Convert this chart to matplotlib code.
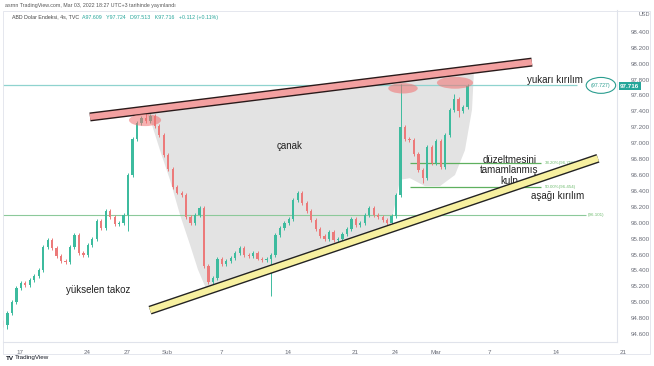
import numpy as np
import matplotlib.pyplot as plt
import matplotlib.transforms as mtransforms
from matplotlib.patches import Ellipse, Polygon

plt.rcParams['font.family'] = ['Liberation Sans', 'DejaVu Sans']

# DXY, 8h candles (x in trading days from 17 Jan)
start_day = -1.27
step = 1 / 3
first_open = 94.75
closes = [94.71, 94.86, 95.00, 95.18, 95.24, 95.22, 95.28, 95.33, 95.40, 95.70,
          95.78, 95.68, 95.58, 95.52, 95.50, 95.69, 95.85, 95.62, 95.60, 95.72,
          95.80, 96.02, 95.93, 96.15, 96.07, 95.98, 96.00, 96.10, 96.60, 97.05,
          97.25, 97.32, 97.28, 97.34, 97.22, 97.10, 96.85, 96.68, 96.45, 96.38,
          96.35, 96.07, 96.00, 96.10, 96.18, 95.45, 95.25, 95.30, 95.55, 95.48,
          95.52, 95.56, 95.62, 95.68, 95.60, 95.58, 95.62, 95.55, 95.53, 95.55,
          95.60, 95.85, 95.93, 96.00, 96.05, 96.28, 96.37, 96.25, 96.15, 96.03,
          95.92, 95.83, 95.80, 95.88, 95.78, 95.80, 95.86, 95.92, 96.05, 95.97,
          96.00, 96.10, 96.18, 96.10, 96.07, 96.03, 96.00, 96.08, 96.35, 97.20,
          97.05, 97.04, 96.87, 96.66, 96.56, 96.95, 96.75, 97.03, 96.70, 97.10,
          97.42, 97.55, 97.40, 97.45, 97.716]
high_spikes = {32: 97.40, 89: 97.74, 104: 97.74, 101: 97.62}
low_spikes = {1: 94.66, 28: 95.90, 60: 95.08, 102: 97.33, 94: 96.50}

# date axis
tick_days = [0, 5, 8, 11, 15, 20, 25, 28, 31, 35, 40]
tick_labels = ['17', '24', '27', 'Şub', '7', '14', '21', '24', 'Mar', '7', '14']
price_ticks = np.arange(94.6, 98.41, 0.2)

# drawn annotations (day, price)
upper_line = ([5.22, 38.2], [97.33, 98.02])
lower_line = ([9.70, 43.13], [94.90, 96.81])
cup_days = [9.4, 9.85, 10.45, 11.19, 11.94, 12.69, 13.28, 13.81, 14.55, 20.9, 27.61,
            28.06, 28.36, 29.1, 30.22, 31.34, 32.46, 33.2, 33.73, 33.88, 9.4]
cup_prices = [97.40, 97.23, 96.91, 96.54, 96.10, 95.72, 95.41, 95.20, 95.13, 95.51, 95.93,
              96.29, 96.54, 96.56, 96.46, 96.46, 96.60, 96.91, 97.42, 97.92, 97.40]
peaks = [(9.33, 97.29, 2.4, 0.15), (28.58, 97.69, 2.2, 0.13), (32.46, 97.76, 2.7, 0.15)]
breakout_up = 97.727
level_low = 96.101
fib_382 = 96.756
fib_500 = 96.454
last_price = 97.716

fig = plt.figure(figsize=(6.54, 3.66), dpi=100)
ax = fig.add_axes([3 / 654, 24 / 366, 614 / 654, 332 / 366])
ax.set_xlim(-1.27, 44.55)
ax.set_ylim(94.50, 98.675)

# cup shading
ax.add_patch(Polygon(list(zip(cup_days, cup_prices)), closed=True,
                     facecolor='#e3e3e3', edgecolor='none', zorder=1))

# candles
n = len(closes)
x = start_day + np.arange(n) * step
opens = [first_open] + closes[:-1]
for i in range(n):
    o, c = opens[i], closes[i]
    col = '#3dbb9e' if c >= o else '#ec7a7a'
    hi = high_spikes.get(i, max(o, c) + 0.025)
    lo = low_spikes.get(i, min(o, c) - 0.025)
    ax.vlines(x[i], lo, hi, color=col, lw=0.7, zorder=3)
    ax.bar(x[i], max(abs(c - o), 0.01), bottom=min(o, c), width=0.17,
           color=col, edgecolor='none', zorder=3)

# trend lines
ax.plot(*upper_line, color='#2a1a1a', lw=6.5, solid_capstyle='butt', zorder=4)
ax.plot(*upper_line, color='#f3a0a0', lw=4.5, solid_capstyle='butt', zorder=4)
ax.plot(*lower_line, color='#222222', lw=6.5, solid_capstyle='butt', zorder=4)
ax.plot(*lower_line, color='#f7f0a0', lw=4.5, solid_capstyle='butt', zorder=4)

for cx, cy, w, h in peaks:
    ax.add_patch(Ellipse((cx, cy), w, h, facecolor='#f07070', alpha=0.55,
                         edgecolor='none', zorder=5))

# horizontal levels
ax.hlines(breakout_up, -1.27, 41.6, color='#8fd3cf', lw=0.9, zorder=2)
ax.add_patch(Ellipse((43.35, breakout_up), 2.2, 0.2, facecolor='white',
                     edgecolor='#2a9d8f', lw=0.8, zorder=5))
ax.text(43.35, breakout_up, f'({breakout_up})', color='#2a9d8f', fontsize=3.8,
        ha='center', va='center', zorder=6)
ax.hlines(level_low, -1.27, 42.2, color='#8cc99a', lw=0.8, zorder=2)
ax.text(42.4, level_low, f'({level_low})', color='#6dbb6d', fontsize=3.2,
        ha='left', va='center')
ax.hlines([fib_382, fib_500], 29.1, 38.9, color='#5fb05f', lw=0.9, zorder=2)
ax.text(39.2, fib_382, f'38.20%({fib_382})', color='#6dbb6d', fontsize=3.2, va='center')
ax.text(39.2, fib_500, f'50.00%({fib_500})', color='#6dbb6d', fontsize=3.2, va='center')

# notes
ax.text(39.9, 97.795, 'yukarı kırılım', fontsize=7, ha='center', va='center', color='#222222')
ax.text(20.15, 96.96, 'çanak', fontsize=7, ha='center', va='center', color='#222222')
ax.text(36.5, 96.66, 'düzeltmesini\ntamamlanmış\nkulp', fontsize=7, ha='center',
        va='center', color='#222222', linespacing=1.05)
ax.text(40.1, 96.34, 'aşağı kırılım', fontsize=7, ha='center', va='center', color='#222222')
ax.text(5.8, 95.15, 'yükselen takoz', fontsize=7, ha='center', va='center', color='#222222')

# axes styling
for s in ['top', 'left']:
    ax.spines[s].set_visible(False)
for s in ['right', 'bottom']:
    ax.spines[s].set_color('#e0e3eb')
    ax.spines[s].set_linewidth(0.8)
ax.yaxis.tick_right()
ax.set_yticks(price_ticks)
ax.set_yticklabels([f'{v:.3f}' for v in price_ticks])
ax.set_xticks(tick_days)
ax.set_xticklabels(tick_labels)
ax.tick_params(axis='both', length=0, labelsize=4.5, colors='#6a6d78', pad=6)
ax.tick_params(axis='y', pad=10)
ax.text(45, -0.025, '21', transform=mtransforms.blended_transform_factory(ax.transData, ax.transAxes),
        fontsize=4.5, color='#6a6d78', ha='center', va='top', clip_on=False)
tr = mtransforms.blended_transform_factory(ax.transAxes, ax.transData)
ax.text(1.005, last_price, f'{last_price}', transform=tr, fontsize=4.5, color='white',
        va='center', ha='left', fontweight='bold',
        bbox=dict(boxstyle='square,pad=0.25', facecolor='#26a69a', edgecolor='none'))
ax.text(1.035, 98.62, 'USD', transform=tr, fontsize=4, color='#6a6d78', va='center')

# header / footer
fig.text(5 / 654, 1 - 5 / 366, 'asrnn TradingView.com, Mar 03, 2022 18:27 UTC+3 tarihinde yayınlandı',
         fontsize=3.8, color='#555555', va='center')
fig.text(12 / 654, 1 - 17 / 366, 'ABD Dolar Endeksi, 4s, TVC', fontsize=3.8,
         color='#444444', va='center')
fig.text(82 / 654, 1 - 17 / 366, 'A97.609   Y97.724   D97.513   K97.716   +0.112 (+0.11%)',
         fontsize=3.8, color='#26a69a', va='center')
fig.text(6 / 654, 1 - 358 / 366, 'TV', fontsize=4.5, fontweight='bold', color='#131722', va='center')
fig.text(15 / 654, 1 - 358 / 366, 'TradingView', fontsize=4.5, color='#131722', va='center')
fig.patches.append(plt.Rectangle((3 / 654, 12 / 366), 647 / 654, 343 / 366, transform=fig.transFigure,
                                 fill=False, edgecolor='#e0e3eb', lw=0.6))

fig.savefig('out.png', dpi=100)
